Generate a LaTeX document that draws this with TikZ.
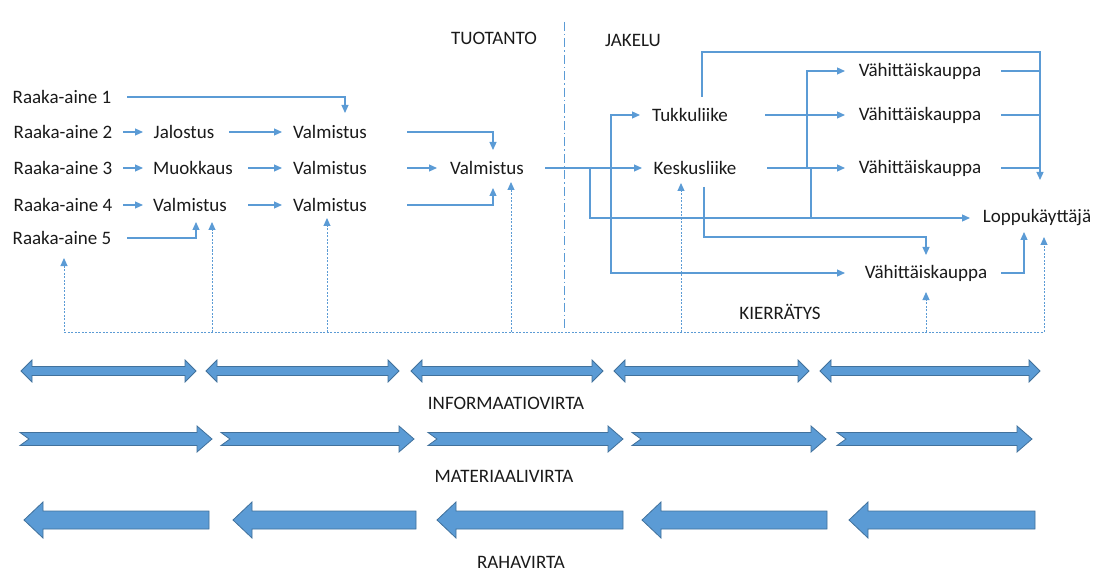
\documentclass[tikz,border=0pt]{standalone}
\usepackage{fontspec}
\setmainfont{Carlito}
\usetikzlibrary{arrows.meta,calc}
\definecolor{lineblue}{HTML}{5B9BD5}
\definecolor{fillblue}{HTML}{5B9BD5}
\definecolor{edgeblue}{HTML}{41719C}
\definecolor{txt}{HTML}{1A1A1A}
\begin{document}
\begin{tikzpicture}[x=1pt,y=-1pt,
  lbl/.style={font=\fontsize{19}{21}\selectfont, text=txt, inner sep=0pt},
  conn/.style={draw=lineblue, line width=1.2pt},
  arr/.style={-{Triangle[length=8pt,width=7pt]}},
  arrtwo/.style={{Triangle[length=8pt,width=7pt]}-{Triangle[length=8pt,width=7pt]}},
  recyc/.style={draw=lineblue, line width=1pt, dash pattern=on 2pt off 1.5pt},
  divider/.style={draw=lineblue, line width=1pt, dash pattern=on 9pt off 3pt on 1.5pt off 3pt},
  big/.style={fill=fillblue, draw=edgeblue, line width=0.8pt, line join=miter}]
\useasboundingbox (0,0) rectangle (1095,572);

% text nodes
\node[lbl] (r1) at (62,97) {Raaka-aine 1};
\node[lbl] (r2) at (63,132) {Raaka-aine 2};
\node[lbl] (r3) at (63,168) {Raaka-aine 3};
\node[lbl] (r4) at (63,205) {Raaka-aine 4};
\node[lbl] (r5) at (62,238) {Raaka-aine 5};
\node[lbl] (jal) at (184,132) {Jalostus};
\node[lbl] (muo) at (193,168) {Muokkaus};
\node[lbl] (v41) at (190,205) {Valmistus};
\node[lbl] (v12) at (330,132) {Valmistus};
\node[lbl] (v13) at (330,168) {Valmistus};
\node[lbl] (v14) at (330,205) {Valmistus};
\node[lbl] (v3) at (487,168) {Valmistus};
\node[lbl] (tuk) at (690,115) {Tukkuliike};
\node[lbl] (kes) at (695,168) {Keskusliike};
\node[lbl] (vk1) at (920,71) {Vähittäiskauppa};
\node[lbl] (vk2) at (920,115) {Vähittäiskauppa};
\node[lbl] (vk3) at (920,168) {Vähittäiskauppa};
\node[lbl] (vk4) at (926,273) {Vähittäiskauppa};
\node[lbl] (lop) at (1037,218) {Loppukäyttäjä};

\node[lbl] (tuot) at (494,38) {TUOTANTO};
\node[lbl] (jak) at (633,40) {JAKELU};
\node[lbl] (kier) at (780,312) {KIERRÄTYS};
\node[lbl] (info) at (506,403) {INFORMAATIOVIRTA};
\node[lbl] (mat) at (504,476) {MATERIAALIVIRTA};
\node[lbl] (raha) at (521,562) {RAHAVIRTA};

% divider
\draw[divider] (564,22) -- (564,330);

% production connectors
\draw[conn,arr] ($(r1)+(65,0)$) -| ($(v12)+(15,-19)$);
\draw[conn,arr] ($(r2)+(60,0)$) -- ($(jal)+(-41,0)$);
\draw[conn,arr] ($(jal)+(45,0)$) -- ($(v12)+(-48,0)$);
\draw[conn,arr] ($(v12)+(77,0)$) -| ($(v3)+(6,-18)$);
\draw[conn,arr] ($(r3)+(60,0)$) -- ($(muo)+(-50,0)$);
\draw[conn,arr] ($(muo)+(55,0)$) -- ($(v13)+(-48,0)$);
\draw[conn,arr] ($(v13)+(77,0)$) -- ($(v3)+(-50,0)$);
\draw[conn,arr] ($(r4)+(60,0)$) -- ($(v41)+(-47,0)$);
\draw[conn,arr] ($(v41)+(58,0)$) -- ($(v14)+(-48,0)$);
\draw[conn,arr] ($(v14)+(77,0)$) -| ($(v3)+(6,20)$);
\draw[conn,arr] ($(r5)+(65,0)$) -| ($(v41)+(6,17)$);

% distribution connectors
\draw[conn,arr] ($(v3)+(58,0)$) -- ($(kes)+(-53,0)$);
\draw[conn,arr] ($(v3)+(103,0)$) |- ($(lop)+(-67,0)$);
\draw[conn,arrtwo] ($(tuk)+(-50,0)$) -- ($(tuk)+(-79,0)$) |- ($(vk4)+(-81,0)$);
\draw[conn,arr] ($(tuk)+(75,0)$) -- ($(vk2)+(-75,0)$);
\draw[conn,arr] ($(tuk)+(12,-18)$) -- ($(tuk)+(12,-63)$) -| ($(lop)+(3,-38)$);
\draw[conn] ($(vk1)+(81,0)$) -- ($(vk1)+(120,0)$);
\draw[conn] ($(vk2)+(81,0)$) -- ($(vk2)+(120,0)$);
\draw[conn] ($(vk3)+(81,0)$) -- ($(vk3)+(120,0)$);
\draw[conn,arr] ($(kes)+(72,0)$) -- ($(vk3)+(-75,0)$);
\draw[conn,arr] ($(kes)+(112,0)$) |- ($(vk1)+(-75,0)$);
\draw[conn] ($(kes)+(116,0)$) -- ($(kes)+(116,50)$);
\draw[conn,arr] ($(kes)+(9,19)$) -- ($(kes)+(9,69)$) -| ($(vk4)+(0,-18)$);
\draw[conn,arr] ($(vk4)+(75,0)$) -| ($(lop)+(-13,14)$);

% recycling
\draw[recyc,arrtwo] ($(r5)+(2,20)$) |- ($(lop)+(7,114)$) -- ($(lop)+(7,19)$);
\draw[recyc,arr] ($(v41)+(22,127)$) -- ($(v41)+(22,17)$);
\draw[recyc,arr] ($(v14)+(-3,127)$) -- ($(v14)+(-3,13)$);
\draw[recyc,arr] ($(v3)+(24,164)$) -- ($(v3)+(24,14)$);
\draw[recyc,arr] ($(kes)+(-14,164)$) -- ($(kes)+(-14,15)$);
\draw[recyc,arr] ($(vk4)+(0,59)$) -- ($(vk4)+(0,19)$);

% information flow
\foreach \a/\b in {21/196,206/399,411/603,614/809,820/1040}
  \draw[big] (\a,371) -- (\a+11,360) -- (\a+11,366.5) -- (\b-11,366.5) -- (\b-11,360) -- (\b,371)
    -- (\b-11,382) -- (\b-11,375.5) -- (\a+11,375.5) -- (\a+11,382) -- cycle;
% material flow
\foreach \a/\b in {20/212,221/414,428/623,632/826,837/1032}
  \draw[big] (\a,432.5) -- (\b-15,432.5) -- (\b-15,426) -- (\b,439) -- (\b-15,452) -- (\b-15,445.5)
    -- (\a,445.5) -- (\a+9,439) -- cycle;
% money flow
\foreach \a/\b in {24/209,233/416,437/623,642/827,849/1035}
  \draw[big] (\a,520) -- (\a+19,502) -- (\a+19,511) -- (\b,511) -- (\b,529) -- (\a+19,529)
    -- (\a+19,538) -- cycle;
\end{tikzpicture}
\end{document}
